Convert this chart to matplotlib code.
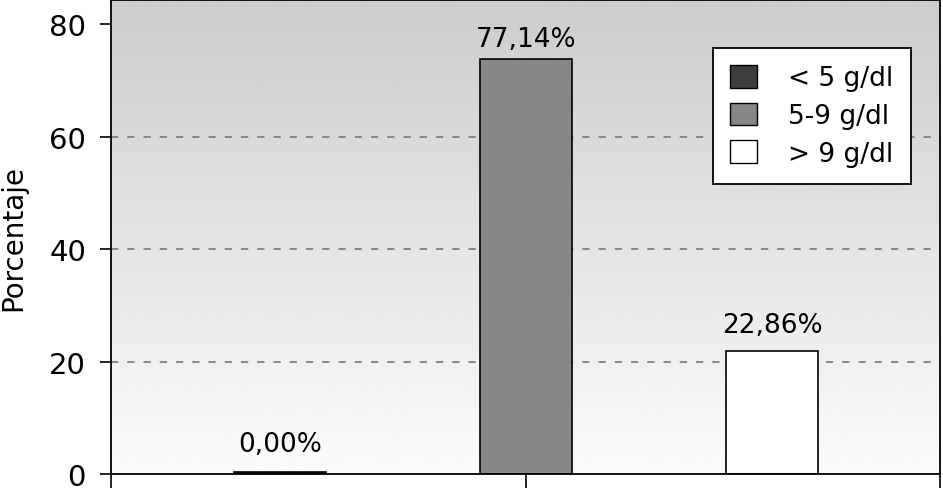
import numpy as np
import matplotlib.pyplot as plt
from matplotlib.patches import Patch

categorias = ['< 5 g/dl', '5-9 g/dl', '> 9 g/dl']
alturas = [0.3, 73.8, 21.9]          # bar heights as drawn
etiquetas = ['0,00%', '77,14%', '22,86%']
colores = ['#3d3d3d', '#878787', '#ffffff']
yticks = [0, 20, 40, 60, 80]

plt.rcParams['font.family'] = ['DejaVu Sans']

fig = plt.figure(figsize=(9.43, 4.89), dpi=100)
ax = fig.add_axes([0.1177, 0.0286, 0.8791, 0.9694])

pos = np.arange(len(categorias)) - 1
xmin, xmax = -1.687, 1.683
ax.set_xlim(xmin, xmax)
ax.set_ylim(0, 84.3)

# gradient background, grey at top fading to white
grad = np.linspace(0.80, 0.985, 256).reshape(-1, 1)
ax.imshow(grad, cmap='gray', vmin=0, vmax=1,
          extent=[0, 1, 0, 1], transform=ax.transAxes, aspect='auto',
          zorder=0, origin='upper')

for y in [20, 40, 60]:
    ax.axhline(y, color='#808080', lw=1.3, ls=(0, (4, 5)), zorder=1)

bars = ax.bar(pos, alturas, width=0.375, color=colores,
              edgecolor='black', linewidth=1.2, zorder=2)
offs = [11, 5, 9]
for b, t, o in zip(bars, etiquetas, offs):
    ax.annotate(t, (b.get_x() + b.get_width() / 2, b.get_height()),
                xytext=(0, o), textcoords='offset points',
                ha='center', va='bottom', fontsize=19)

ax.set_yticks(yticks)
ax.tick_params(axis='y', labelsize=21, length=8, width=1.2, direction='out', pad=10)
ax.set_xticks([xmin, 0, xmax])
ax.set_xticklabels([])
ax.tick_params(axis='x', length=12, width=1.2, direction='out')
ax.set_ylabel('Porcentaje', fontsize=20, labelpad=16)

for s in ax.spines.values():
    s.set_linewidth(1.3)

handles = [Patch(facecolor=c, edgecolor='black', linewidth=1.0) for c in colores]
leg = ax.legend(handles, categorias, loc='upper right',
                bbox_to_anchor=(0.9646, 0.899), fontsize=19,
                frameon=True, fancybox=False, framealpha=1,
                edgecolor='black', handlelength=1.0, handleheight=0.95,
                handletextpad=1.2, labelspacing=0.42, borderpad=0.65,
                borderaxespad=0)
leg.get_frame().set_linewidth(1.3)

plt.savefig('out.png', dpi=100)
